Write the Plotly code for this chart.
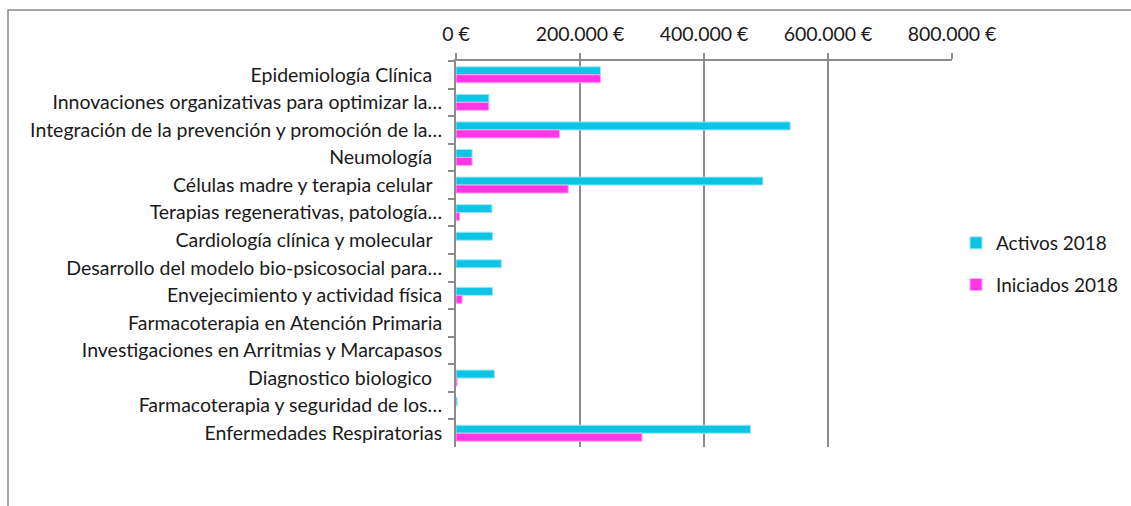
import plotly.graph_objects as go

# Research groups (displayed as truncated in the chart)
categories = [
    "Epidemiología Clínica\u00a0\u00a0",
    "Innovaciones organizativas para optimizar la…",
    "Integración de la prevención y promoción de la…",
    "Neumología\u00a0\u00a0",
    "Células madre y terapia celular\u00a0\u00a0",
    "Terapias regenerativas, patología…",
    "Cardiología clínica y molecular\u00a0\u00a0",
    "Desarrollo del modelo bio-psicosocial para…",
    "Envejecimiento y actividad física",
    "Farmacoterapia en Atención Primaria",
    "Investigaciones en Arritmias y Marcapasos",
    "Diagnostico biologico\u00a0\u00a0",
    "Farmacoterapia y seguridad de los…",
    "Enfermedades Respiratorias",
]

activos_2018 = [233000, 53000, 539000, 26000, 495000, 58000, 59000,
                73000, 59000, 0, 0, 62000, 2000, 475000]
iniciados_2018 = [233000, 53000, 167000, 26000, 181000, 6000, 0,
                  0, 10000, 0, 0, 2000, 0, 300000]

tick_values = [0, 200000, 400000, 600000, 800000]
tick_labels = ["0 €", "200.000 €", "400.000 €", "600.000 €", "800.000 €"]

CYAN = "#0BC4E6"
MAGENTA = "#FF35E6"
GRID = "#8C8C8C"
FONT = "Lato"
TEXT = "#1a1a1a"


def edge_widths(values):
    # thin light edge only on bars that actually have length
    return [1 if v > 0 else 0 for v in values]


fig = go.Figure()
fig.add_trace(go.Bar(
    y=categories, x=activos_2018, orientation="h", name="Activos 2018",
    marker=dict(color=CYAN, line=dict(color="#9CE6F4", width=edge_widths(activos_2018))),
    legendgroup="a",
))
fig.add_trace(go.Bar(
    y=categories, x=iniciados_2018, orientation="h", name="Iniciados 2018",
    marker=dict(color=MAGENTA, line=dict(color="#FFA8F3", width=edge_widths(iniciados_2018))),
    legendgroup="i",
))

W, H = 1131, 506
L, R, T, B = 456, 952, 61, 447

fig.update_layout(
    width=W, height=H,
    margin=dict(l=L, r=W - R, t=T, b=H - B, autoexpand=False),
    paper_bgcolor="white", plot_bgcolor="white",
    barmode="group", bargap=0.42, bargroupgap=0.0,
    font=dict(family=FONT, size=19.5, color=TEXT),
    showlegend=True,
    legend=dict(
        x=(956 - L) / (R - L), y=(B - 224) / (B - T),
        xanchor="left", yanchor="top",
        font=dict(family=FONT, size=19, color=TEXT),
        tracegroupgap=14, itemwidth=30,
        bgcolor="rgba(0,0,0,0)",
    ),
    xaxis=dict(
        side="top", range=[0, 800000], automargin=False,
        tickvals=tick_values, ticktext=tick_labels,
        tickfont=dict(family=FONT, size=19.5, color=TEXT),
        showgrid=True, gridcolor=GRID, gridwidth=2,
        showline=True, linecolor=GRID, linewidth=2,
        ticks="outside", ticklen=6, tickwidth=2, tickcolor=GRID,
        ticklabelstandoff=4, zeroline=False,
    ),
    yaxis=dict(
        autorange="reversed", automargin=False,
        tickfont=dict(family=FONT, size=19.5, color=TEXT),
        showline=True, linecolor=GRID, linewidth=2,
        ticks="outside", tickson="boundaries", ticklen=6, tickwidth=2, tickcolor=GRID,
        ticklabelstandoff=8, showgrid=False,
    ),
    shapes=[dict(
        type="rect", xref="paper", yref="paper",
        x0=(8 - L) / (R - L), x1=(1200 - L) / (R - L),
        y0=(B - 560) / (B - T), y1=(B - 10) / (B - T),
        line=dict(color="#8A8A8A", width=1.5), fillcolor="rgba(0,0,0,0)",
        layer="below",
    )],
)

fig.write_html("out.html")
